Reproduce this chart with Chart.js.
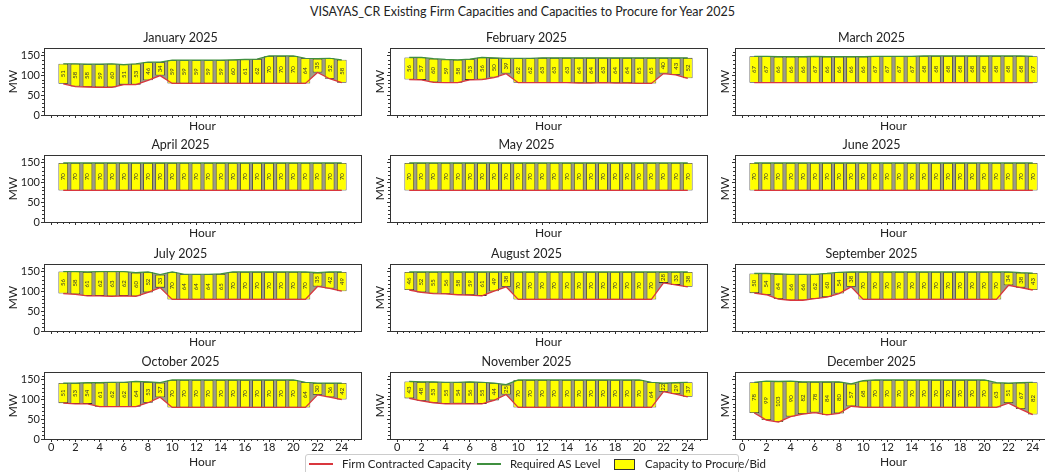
<!DOCTYPE html>
<html>
<head>
<meta charset="utf-8">
<script src="https://cdn.jsdelivr.net/npm/chart.js@4/dist/chart.umd.min.js"></script>
<style>
  body { margin: 0; width: 1045px; height: 472px; overflow: hidden; background: #fff; position: relative; font-family: Lato, "Open Sans", sans-serif; color: #222; }
  canvas { position: absolute; }
  #title { position: absolute; left: 0; width: 1045px; top: 4px; text-align: center; font-size: 12.5px; }
  #legend { position: absolute; left: 305px; top: 454px; width: 432px; height: 19px; border: 1px solid #ccc; border-radius: 3px; background: #fff; font-size: 11.5px; }
  #legend span { position: absolute; top: 2px; white-space: nowrap; }
  #legend i { position: absolute; display: block; }
</style>
</head>
<body>
<div id="title">VISAYAS_CR Existing Firm Capacities and Capacities to Procure for Year 2025</div>

<canvas id="c0" width="365" height="109"></canvas>
<canvas id="c1" width="365" height="109"></canvas>
<canvas id="c2" width="365" height="109"></canvas>
<canvas id="c3" width="365" height="109"></canvas>
<canvas id="c4" width="365" height="109"></canvas>
<canvas id="c5" width="365" height="109"></canvas>
<canvas id="c6" width="365" height="109"></canvas>
<canvas id="c7" width="365" height="109"></canvas>
<canvas id="c8" width="365" height="109"></canvas>
<canvas id="c9" width="365" height="121"></canvas>
<canvas id="c10" width="365" height="121"></canvas>
<canvas id="c11" width="365" height="121"></canvas>

<div id="legend">
  <i style="left:3px;top:8px;width:24px;height:2px;background:#d9363e;"></i>
  <span style="left:36px;">Firm Contracted Capacity</span>
  <i style="left:171px;top:8px;width:24px;height:2px;background:#3f8f3f;"></i>
  <span style="left:204px;">Required AS Level</span>
  <i style="left:308px;top:4px;width:19px;height:9px;background:#ffff00;border:1px solid #333;"></i>
  <span style="left:339px;">Capacity to Procure/Bid</span>
</div>

<script>
const hours = [1,2,3,4,5,6,7,8,9,10,11,12,13,14,15,16,17,18,19,20,21,22,23,24];
const xTicks = [0,2,4,6,8,10,12,14,16,18,20,22,24];
const yTicks = [0,50,100,150];
const monthNames = ['January 2025','February 2025','March 2025','April 2025','May 2025','June 2025',
  'July 2025','August 2025','September 2025','October 2025','November 2025','December 2025'];

// firm contracted capacity (MW) and capacity to procure (MW), per hour
const firmJan = [79,72,71,70,70,77,77,88,100,80,80,80,80,80,80,80,80,80,80,80,80,108,92,82];
const bidJan  = [51,58,58,59,60,51,53,46,34,59,59,59,59,59,60,61,62,70,70,70,64,35,52,58];
const firmFeb = [90,89,83,82,82,89,90,95,105,82,82,82,82,82,81,81,82,81,81,80,80,105,102,93];
const bidFeb  = [56,57,60,59,58,53,56,50,39,62,62,63,63,63,64,64,63,64,64,65,65,40,43,52];
const firmMar = [82,82,82,82,82,82,82,82,82,82,82,82,82,82,82,82,82,82,82,82,82,82,82,82];
const bidMar  = [67,67,66,66,66,67,66,66,66,66,67,67,67,67,68,68,68,68,68,68,68,68,68,67];
const firmApr = [80,80,80,80,80,80,80,80,80,80,80,80,80,80,80,80,80,80,80,80,80,80,80,80];
const bidApr  = [70,70,70,70,70,70,70,70,70,70,70,70,70,70,70,70,70,70,70,70,70,70,70,70];
const firmMay = [80,80,80,80,80,80,80,80,80,80,80,80,80,80,80,80,80,80,80,80,80,80,80,80];
const bidMay  = [70,70,70,70,70,70,70,70,70,70,70,70,70,70,70,70,70,70,70,70,70,70,70,70];
const firmJun = [80,80,80,80,80,80,80,80,80,80,80,80,80,80,80,80,80,80,80,80,80,80,80,80];
const bidJun  = [70,70,70,70,70,70,70,70,70,70,70,70,70,70,70,70,70,70,70,70,70,70,70,70];
const firmJul = [95,93,89,89,88,89,88,98,110,80,80,80,80,80,80,80,80,80,80,80,80,113,108,101];
const bidJul  = [56,58,61,62,63,62,60,52,33,70,64,64,64,65,70,70,70,70,70,70,70,35,42,49];
const firmAug = [104,98,95,94,92,91,89,101,112,80,80,80,80,80,80,80,80,80,80,80,80,122,117,112];
const bidAug  = [46,52,55,56,58,59,61,49,38,70,70,70,70,70,70,70,70,70,70,70,70,28,33,38];
const firmSep = [96,92,81,78,78,82,86,95,112,80,80,80,80,80,80,80,80,80,80,80,80,116,110,104];
const bidSep  = [50,54,64,66,66,62,60,54,38,70,70,70,70,70,70,70,70,70,70,70,70,34,38,43];
const firmOct = [91,89,89,82,82,82,82,92,106,80,80,80,80,80,80,80,80,80,80,80,80,112,106,100];
const bidOct  = [51,53,54,61,62,62,64,53,37,70,70,70,70,70,70,70,70,70,70,70,64,30,36,42];
const firmNov = [103,97,92,89,90,89,89,98,113,80,80,80,80,80,80,80,80,80,80,80,80,120,114,107];
const bidNov  = [43,48,53,55,54,56,55,44,25,70,70,70,70,70,70,70,70,70,70,70,64,22,29,37];
const firmDec = [66,48,43,57,63,67,61,65,83,80,80,80,80,80,80,80,80,80,80,80,80,91,76,62];
const bidDec  = [78,99,103,90,82,78,84,80,57,68,70,70,70,70,70,70,70,70,70,70,63,51,67,82];

const firmAll = [firmJan,firmFeb,firmMar,firmApr,firmMay,firmJun,firmJul,firmAug,firmSep,firmOct,firmNov,firmDec];
const bidAll  = [bidJan,bidFeb,bidMar,bidApr,bidMay,bidJun,bidJul,bidAug,bidSep,bidOct,bidNov,bidDec];

const FONT = 'Lato, "Open Sans", sans-serif';
const colLeft = [0, 346, 691];
const rowTop = [24, 131, 240, 348];

// box around each plot area, plus small minor ticks like matplotlib
const framePlugin = {
  id: 'frame',
  afterDraw(chart) {
    const a = chart.chartArea, ctx = chart.ctx;
    const xs = chart.scales.x, ys = chart.scales.y;
    ctx.save();
    ctx.strokeStyle = '#333';
    ctx.lineWidth = 1;
    ctx.strokeRect(Math.round(a.left) + 0.5, Math.round(a.top) + 0.5, Math.round(a.right - a.left), Math.round(a.bottom - a.top));
    ctx.beginPath();
    for (let v = 0.5; v < 25.5; v += 0.5) {
      if (v % 2 === 0) continue;
      const px = Math.round(xs.getPixelForValue(v)) + 0.5;
      ctx.moveTo(px, a.bottom);
      ctx.lineTo(px, a.bottom + 2);
    }
    for (let v = 10; v < 170; v += 10) {
      if (v % 50 === 0) continue;
      const py = Math.round(ys.getPixelForValue(v)) + 0.5;
      ctx.moveTo(a.left, py);
      ctx.lineTo(a.left - 2, py);
    }
    ctx.stroke();
    ctx.restore();
  }
};

// rotated procure values inside the bars
const barLabels = {
  id: 'barLabels',
  afterDatasetsDraw(chart) {
    const meta = chart.getDatasetMeta(2);
    const vals = chart.data.datasets[2].bidValues;
    const ctx = chart.ctx;
    ctx.save();
    ctx.font = '6px ' + FONT;
    ctx.fillStyle = '#333';
    ctx.textAlign = 'center';
    ctx.textBaseline = 'middle';
    meta.data.forEach((bar, i) => {
      ctx.save();
      ctx.translate(bar.x, (bar.y + bar.base) / 2);
      ctx.rotate(-Math.PI / 2);
      ctx.fillText(String(vals[i]), 0, 0);
      ctx.restore();
    });
    ctx.restore();
  }
};

for (let m = 0; m < 12; m++) {
  const col = m % 3, row = Math.floor(m / 3);
  const firm = firmAll[m], bid = bidAll[m];
  const req = firm.map((f, i) => f + bid[i]);
  const cv = document.getElementById('c' + m);
  cv.style.left = colLeft[col] + 'px';
  cv.style.top = rowTop[row] + 'px';

  new Chart(cv, {
    type: 'bar',
    data: {
      datasets: [{
        type: 'line',
        label: 'Firm Contracted Capacity',
        data: hours.map((h, i) => ({x: h, y: firm[i]})),
        borderColor: '#d9363e',
        borderWidth: 1.3,
        pointRadius: 0,
        fill: false,
        order: 1
      }, {
        type: 'line',
        label: 'Required AS Level',
        data: hours.map((h, i) => ({x: h, y: req[i]})),
        borderColor: '#3f8f3f',
        borderWidth: 1.2,
        pointRadius: 0,
        backgroundColor: '#9d9d86',
        fill: '-1',
        order: 2
      }, {
        type: 'bar',
        label: 'Capacity to Procure/Bid',
        data: hours.map((h, i) => ({x: h, y: [firm[i], req[i]]})),
        bidValues: bid,
        backgroundColor: '#ffff00',
        borderColor: '#333',
        borderWidth: 0.8,
        borderSkipped: false,
        barPercentage: 0.8,
        categoryPercentage: 1,
        order: 3
      }]
    },
    options: {
      responsive: false,
      animation: false,
      events: [],
      layout: { padding: { right: 4 } },
      plugins: {
        legend: { display: false },
        tooltip: { enabled: false },
        filler: { drawTime: 'beforeDatasetsDraw' },
        title: {
          display: true,
          text: monthNames[m],
          font: { size: 12.5, family: FONT, weight: 'normal' },
          color: '#222',
          padding: { top: 6, bottom: 3 }
        }
      },
      scales: {
        x: {
          type: 'linear',
          min: -0.59,
          max: 25.59,
          offset: false,
          afterBuildTicks: s => { s.ticks = xTicks.map(v => ({value: v})); },
          afterFit: s => { s.height = row === 3 ? 30 : 18; },
          ticks: { display: row === 3, font: { size: 11, family: FONT }, color: '#222', padding: -1, maxRotation: 0, autoSkip: false },
          grid: { display: true, drawOnChartArea: false, tickLength: 3, color: '#333', offset: false },
          border: { color: '#333' },
          title: { display: true, text: 'Hour', font: { size: 12, family: FONT }, color: '#222', padding: 0 }
        },
        y: {
          min: 0,
          max: 170,
          afterBuildTicks: s => { s.ticks = yTicks.map(v => ({value: v})); },
          afterFit: s => { s.width = 44; },
          ticks: { display: col === 0, font: { size: 11, family: FONT }, color: '#222', padding: 1 },
          grid: { display: true, drawOnChartArea: false, tickLength: 3, color: '#333' },
          border: { color: '#333' },
          title: { display: true, text: 'MW', font: { size: 12, family: FONT }, color: '#222', padding: { top: col === 0 ? 6 : 27 } }
        }
      }
    },
    plugins: [framePlugin, barLabels]
  });
}
</script>
</body>
</html>
